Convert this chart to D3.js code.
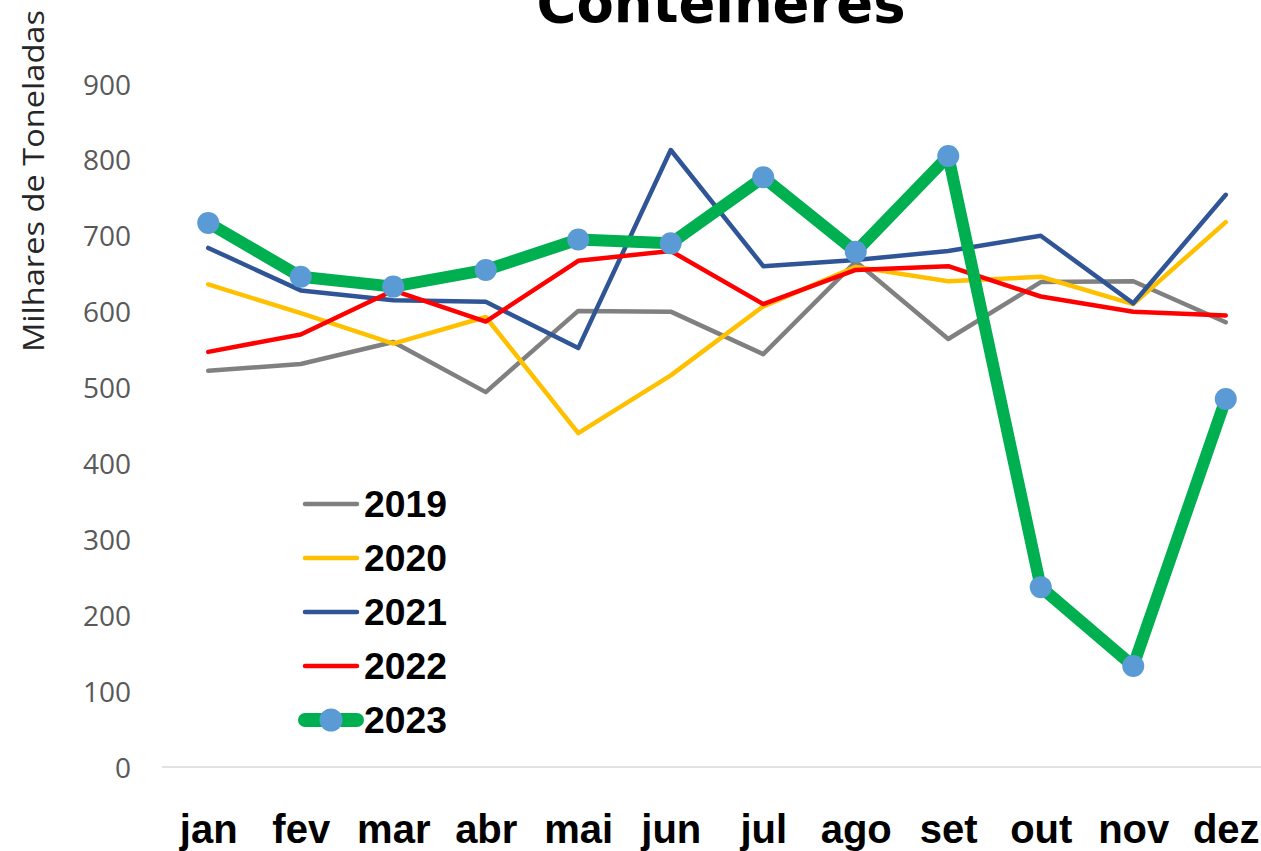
<!DOCTYPE html>
<html>
<head>
<meta charset="utf-8">
<script src="https://cdn.jsdelivr.net/npm/d3@7/dist/d3.min.js"></script>
<style>
  html, body { margin: 0; padding: 0; background: #ffffff; overflow: hidden; }
  svg { display: block; }
</style>
</head>
<body>
<svg id="chart" width="1261" height="851"></svg>
<script>
// ---- data ----
const months = ["jan", "fev", "mar", "abr", "mai", "jun", "jul", "ago", "set", "out", "nov", "dez"];
const yTicks = [0, 100, 200, 300, 400, 500, 600, 700, 800, 900];
const seriesNames = ["2019", "2020", "2021", "2022", "2023"];
const v2019 = [522, 531, 560, 494, 601, 600, 544, 666, 564, 639, 640, 586];
const v2020 = [636, 598, 558, 593, 440, 516, 607, 659, 640, 646, 610, 718];
const v2021 = [684, 628, 615, 613, 552, 813, 660, 668, 680, 700, 611, 754];
const v2022 = [547, 570, 628, 587, 667, 680, 610, 655, 660, 620, 600, 595];
const v2023 = [717, 646, 633, 655, 695, 690, 777, 679, 805, 237, 133, 485];
const titleText = "Contêineres";
const yTitleText = "Milhares de Toneladas";

// ---- styles ----
const colors = ["#808080", "#FFC000", "#2F5597", "#FF0000", "#00B050"];
const widths = [4.5, 4.5, 4.5, 4.5, 12];
const markerColor = "#5B9BD5";

const allValues = [v2019, v2020, v2021, v2022, v2023];
const series = seriesNames.map((name, i) => ({
  name, color: colors[i], width: widths[i], values: allValues[i]
}));

const svg = d3.select("#chart");

const x = d3.scalePoint().domain(months).range([162, 1272]).padding(0.5);
const y = d3.scaleLinear().domain([0, 900]).range([767, 84]);

// title
svg.append("text")
  .attr("x", 721).attr("y", 22)
  .attr("text-anchor", "middle")
  .attr("font-family", "DejaVu Sans, sans-serif")
  .attr("font-weight", "bold")
  .attr("font-size", 56)
  .attr("textLength", 369)
  .attr("lengthAdjust", "spacingAndGlyphs")
  .attr("fill", "#000")
  .text(titleText);

// y axis title
svg.append("text")
  .attr("transform", "translate(44,181) rotate(-90)")
  .attr("text-anchor", "middle")
  .attr("font-family", "Open Sans, sans-serif")
  .attr("font-weight", 400)
  .attr("font-size", 29)
  .attr("textLength", 342)
  .attr("lengthAdjust", "spacingAndGlyphs")
  .attr("fill", "#262626")
  .text(yTitleText);

// y axis (labels only)
const yAxis = d3.axisLeft(y).tickValues(yTicks).tickSize(0).tickPadding(0);
const gy = svg.append("g").attr("transform", "translate(131,0)").call(yAxis);
gy.select(".domain").remove();
gy.selectAll("text")
  .attr("font-family", "Open Sans, sans-serif")
  .attr("font-size", 28)
  .attr("fill", "#595959")
  .attr("dy", "0.36em");

// x axis
const xAxis = d3.axisBottom(x).tickSize(0).tickPadding(0);
const gx = svg.append("g").attr("transform", "translate(0,767)").call(xAxis);
gx.select(".domain").remove();
gx.selectAll("text")
  .attr("font-family", "Liberation Sans, Arial, sans-serif")
  .attr("font-weight", "bold")
  .attr("font-size", 40)
  .attr("fill", "#000")
  .attr("y", 76)
  .attr("dy", 0);

svg.append("line")
  .attr("x1", 162).attr("x2", 1261)
  .attr("y1", y(0)).attr("y2", y(0))
  .attr("stroke", "#D9D9D9").attr("stroke-width", 1.5);

// lines
const line = d3.line().x((d, i) => x(months[i])).y(d => y(d));
svg.append("g").selectAll("path")
  .data(series)
  .join("path")
  .attr("d", d => line(d.values))
  .attr("fill", "none")
  .attr("stroke", d => d.color)
  .attr("stroke-width", d => d.width)
  .attr("stroke-linejoin", "round")
  .attr("stroke-linecap", "round");

// markers for 2023
svg.append("g").selectAll("circle")
  .data(v2023)
  .join("circle")
  .attr("cx", (d, i) => x(months[i]))
  .attr("cy", d => y(d))
  .attr("r", 11)
  .attr("fill", markerColor);

// legend
const legend = svg.append("g");
const legendY = d3.scalePoint().domain(seriesNames).range([504, 720]);
series.forEach((s, i) => {
  const ly = legendY(s.name);
  const last = i === series.length - 1;
  legend.append("line")
    .attr("x1", 305).attr("x2", 357)
    .attr("y1", ly).attr("y2", ly)
    .attr("stroke", s.color)
    .attr("stroke-width", last ? 14 : 4.5)
    .attr("stroke-linecap", "round");
  if (last) {
    legend.append("circle")
      .attr("cx", 331).attr("cy", ly).attr("r", 11.5)
      .attr("fill", markerColor);
  }
  legend.append("text")
    .attr("x", 364).attr("y", ly + 13)
    .attr("font-family", "Liberation Sans, Arial, sans-serif")
    .attr("font-weight", "bold")
    .attr("font-size", 36)
    .attr("textLength", 83)
    .attr("lengthAdjust", "spacingAndGlyphs")
    .attr("fill", "#000")
    .text(s.name);
});
</script>
</body>
</html>
